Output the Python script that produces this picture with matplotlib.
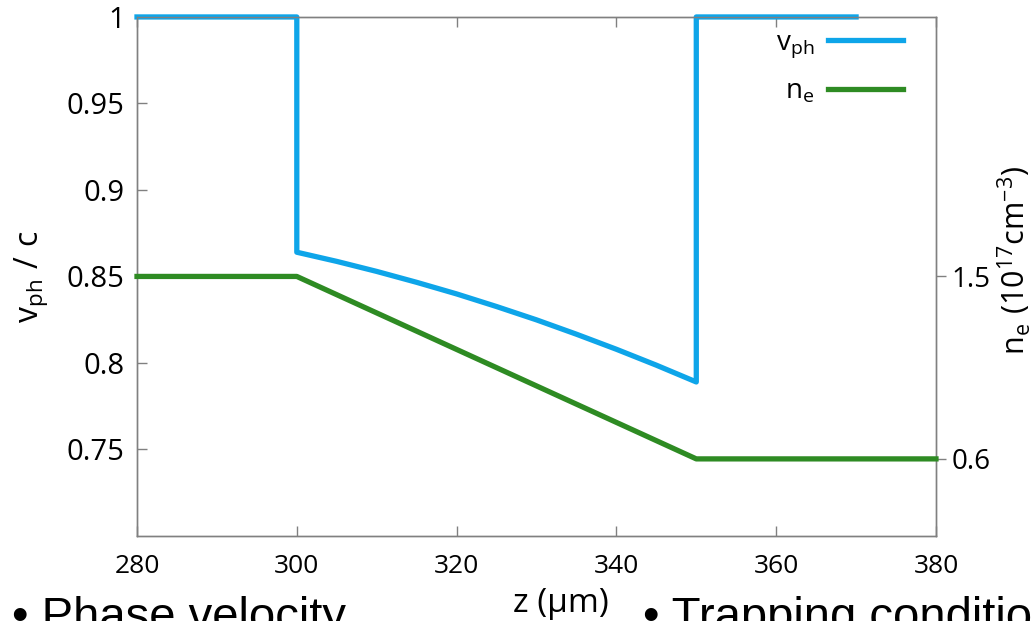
import numpy as np
import matplotlib as mpl
mpl.use('Agg')
from matplotlib import pyplot as plt

plt.rcParams.update({'font.family': 'Open Sans', 'font.size': 17,
                     'mathtext.fontset': 'custom', 'mathtext.rm': 'Open Sans',
                     'mathtext.it': 'Open Sans'})

# phase velocity (v_ph / c) along z
z_vph = [280, 300, 300, 305, 310, 315, 320, 325, 330, 335, 340, 345, 350, 350, 370]
vph = [1.0, 1.0, 0.864, 0.8587, 0.8529, 0.8466, 0.8399, 0.8326, 0.8249, 0.8166, 0.8079, 0.7987, 0.789, 1.0, 1.0]

# electron density (1e17 cm^-3)
z_ne = [280, 300, 350, 380]
ne = [1.5, 1.5, 0.6, 0.6]

blue = '#0ea5e9'
green = '#2e8b23'
gray = '#808080'

fig = plt.figure(figsize=(10.34, 6.21), dpi=100)
ax = fig.add_axes([0.1325, 0.137, 0.7727, 0.8357])
ax2 = ax.twinx()

l1, = ax.plot(z_vph, vph, color=blue, lw=3.8, clip_on=False, zorder=3, label=r'$\mathrm{v}_{\mathrm{ph}}$')
l2, = ax2.plot(z_ne, ne, color=green, lw=3.8, clip_on=False, zorder=3, label=r'$\mathrm{n_e}$')

ax.set_xlim(280, 380)
ax.set_ylim(0.7, 1.0)
ax2.set_ylim(0.22, 2.78)

ax.set_xticks([280, 300, 320, 340, 360, 380])
ax.set_yticks([0.75, 0.8, 0.85, 0.9, 0.95, 1])
ax.set_yticklabels(['0.75', '0.8', '0.85', '0.9', '0.95', '1'])
ax2.set_yticks([0.6, 1.5])
ax2.set_yticklabels(['0.6', '1.5'])

for a in (ax, ax2):
    for s in a.spines.values():
        s.set_color(gray)
        s.set_linewidth(1.0)

ax.tick_params(axis='both', direction='in', color=gray, length=7, width=1, top=True, right=False)
ax.tick_params(axis='x', labelsize=19, pad=13)
ax.tick_params(axis='y', labelsize=21, pad=9)
ax2.tick_params(axis='y', direction='out', color=gray, length=7, width=1, pad=4, labelsize=20)

ax.set_xlabel(u'z (\u00b5m)', fontsize=24, labelpad=10)
ax.xaxis.set_label_coords(0.531, -0.098)
ax.xaxis.label.set_va('top')
ax.set_ylabel(r'$\mathrm{v_{ph}\ /\ c}$', fontsize=23, labelpad=12)
ax2.set_ylabel(r'$\mathrm{n_e\ (10^{17}cm^{-3})}$', fontsize=22)
ax2.yaxis.set_label_coords(1.075, 0.53)

ax.legend(handles=[l1, l2], loc='upper right', bbox_to_anchor=(0.98, 1.01), frameon=False,
          markerfirst=False, handlelength=2.7, handletextpad=0.5, fontsize=20,
          labelspacing=0.65, borderaxespad=0.2)

# slide text below the chart
fig.text(0.012, -0.014, u'\u2022 Phase velocity', fontsize=34, family='Liberation Sans', va='baseline')
fig.text(0.622, -0.014, u'\u2022 Trapping condition', fontsize=34, family='Liberation Sans', va='baseline')

fig.savefig('out.png', dpi=100)
